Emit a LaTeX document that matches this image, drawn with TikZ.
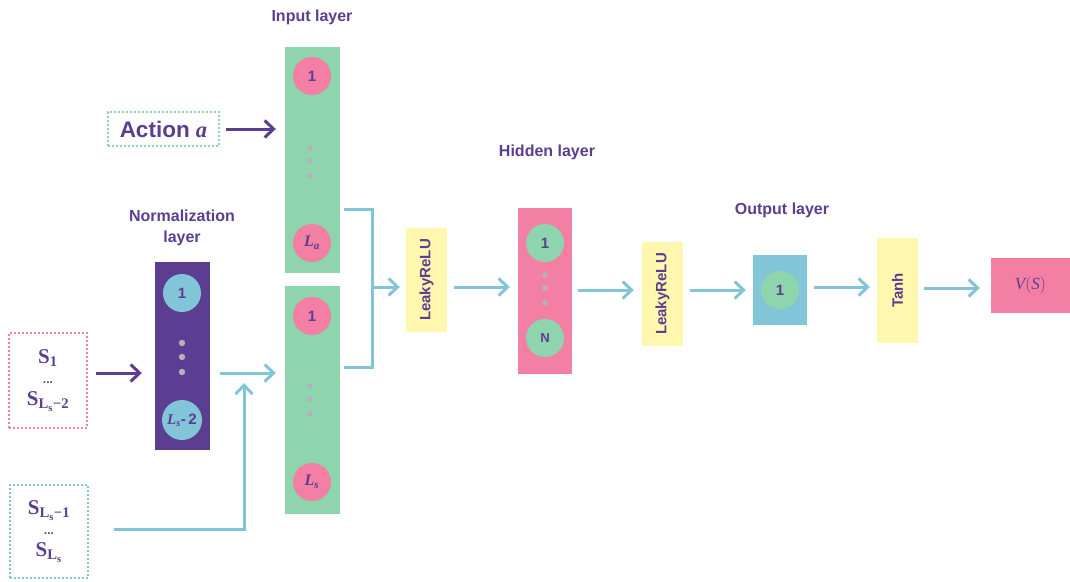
\documentclass[tikz,border=0pt]{standalone}
\usepackage{amsmath}
\usepackage{fontspec}
\setmainfont{Liberation Sans}
\newfontfamily\cmser{Liberation Serif}
\usetikzlibrary{arrows.meta}
\newcommand{\cb}[1]{\text{\cmser\bfseries #1}}
\newcommand{\ci}[1]{\text{\cmser\bfseries\itshape #1}}
\definecolor{ink}{RGB}{91,62,145}
\definecolor{lgreen}{RGB}{142,212,172}
\definecolor{lpink}{RGB}{243,127,164}
\definecolor{lblue}{RGB}{130,197,216}
\definecolor{lyellow}{RGB}{255,247,174}
\definecolor{dotgrey}{RGB}{178,178,188}
\begin{document}
\begin{tikzpicture}[x=1pt,y=-1pt,
  title/.style={text=ink,font=\fontsize{16}{21}\selectfont\bfseries,align=center},
  col/.style={draw=none,minimum width=55,inner sep=0},
  unit/.style={circle,minimum size=38,inner sep=0,text=ink,font=\fontsize{15}{18}\selectfont\bfseries},
  act/.style={fill=lyellow,minimum width=104,minimum height=41,inner sep=0,rotate=90,text=ink,font=\fontsize{15}{18}\selectfont\bfseries},
  dotbox/.style={line width=2pt,dash pattern=on 2pt off 2pt,minimum width=78,inner sep=0,align=center,text=ink,font=\fontsize{21}{25}\selectfont},
  barrow/.style={line width=3pt,-{Straight Barb[length=9pt,width=17pt,line width=3pt]}},
  gdot/.style={fill=dotgrey,draw=none},
]
\useasboundingbox (0,0) rectangle (1070,581);

% titles
\node[title] (tin) at (312,17) {Input layer};
\node[title] (tnorm) at (182,228) {Normalization\\layer};
\node[title] (thid) at (547,152) {Hidden layer};
\node[title] (tout) at (782,210) {Output layer};

% input dotted boxes
\node[dotbox,draw=lgreen,minimum width=111,minimum height=34,font=\fontsize{22.5}{26}\selectfont\bfseries] (action) at (163.5,129) {Action $\ci{a}$};
\node[dotbox,draw=lpink,minimum height=95] (s1box) at (48,380.5)
  {$\cb{S}_{\cb{1}}$\\[-5pt]{\fontsize{12}{12}\selectfont\bfseries ...}\\[-3pt]$\cb{S}_{\cb{L}_{\cb{s}}\cb{−2}}$};
\node[dotbox,draw=lblue,minimum height=93] (s2box) at (49,531.5)
  {$\cb{S}_{\cb{L}_{\cb{s}}\cb{−1}}$\\[-5pt]{\fontsize{12}{12}\selectfont\bfseries ...}\\[-3pt]$\cb{S}_{\cb{L}_{\cb{s}}}$};

% normalization layer
\node[col,fill=ink,minimum height=188] (norm) at (182.5,356) {};
\node[unit,fill=lblue] (n1) at (182,293) {1};
\node[unit,fill=lblue,minimum size=40,font=\fontsize{15}{16}\selectfont\bfseries] (nL) at (182,420) {$\ci{L}_{\ci{s}}$-\,2};
\fill[gdot] (182,343) circle (3.2) (182,357) circle (3.2) (182,372) circle (3.2);

% input layer
\node[col,fill=lgreen,minimum height=226] (inA) at (312.5,160) {};
\node[col,fill=lgreen,minimum height=228] (inS) at (312.5,400) {};
\node[unit,fill=lpink] (a1) at (312,76) {1};
\node[unit,fill=lpink,font=\fontsize{16}{18}\selectfont] (aL) at (312,243) {$\ci{L}_{\ci{a}}$};
\node[unit,fill=lpink] (s1) at (312,316) {1};
\node[unit,fill=lpink,font=\fontsize{16}{18}\selectfont] (sL) at (312,482) {$\ci{L}_{\ci{s}}$};
\fill[gdot] (310,148) circle (2.8) (310,161) circle (2.8) (310,176) circle (2.8);
\fill[gdot] (310,386) circle (2.8) (310,399) circle (2.8) (310,414) circle (2.8);

% hidden layer
\node[col,fill=lpink,minimum width=54,minimum height=166] (hid) at (545,291) {};
\node[unit,fill=lgreen] (h1) at (545,243) {1};
\node[unit,fill=lgreen,font=\fontsize{13}{15}\selectfont\bfseries] (hN) at (545,338) {N};
\fill[gdot] (545,275) circle (2.8) (545,288) circle (2.8) (545,303) circle (2.8);

% activations
\node[act] (lr1) at (426.5,280) {LeakyReLU};
\node[act] (lr2) at (662.5,294) {LeakyReLU};
\node[act,minimum width=105] (tanh) at (897.5,290.5) {Tanh};

% output layer
\node[col,fill=lblue,minimum width=54,minimum height=70] (out) at (780,290) {};
\node[unit,fill=lgreen] (o1) at (780,290) {1};

\node[fill=lpink,minimum width=79,minimum height=55,inner sep=0,text=ink,font=\fontsize{17}{18}\selectfont] (vs) at (1030.5,285.5) {$\text{\cmser\itshape V}\mathrm{(}\text{\cmser\itshape S}\mathrm{)}$};

% helper coordinates
\coordinate (mrg) at (244,373);
\coordinate (jn) at (372,287);
\coordinate (r287) at (0,287);
\coordinate (r290) at (0,290);
\coordinate (r288) at (0,288);

% connectors
\draw[barrow,ink,shorten <=6pt,shorten >=9pt] (action.east) -- (inA.west |- action.east);
\draw[barrow,ink,shorten <=8pt,shorten >=13pt] ([yshift=7.5pt]s1box.east) -- (norm.west |- mrg);
\draw[barrow,lblue,shorten <=10pt,shorten >=9pt] (norm.east |- mrg) -- (inS.west |- mrg);
\draw[barrow,lblue] ([xshift=25pt,yshift=2.5pt]s2box.east) -| ([yshift=-10pt]mrg);
\draw[line width=3pt,lblue] ([xshift=4pt,yshift=-49pt]inA.east) -| (jn);
\draw[line width=3pt,lblue] ([xshift=4pt,yshift=33pt]inS.east) -| (jn);
\draw[barrow,lblue,shorten >=6pt] ([xshift=-1.5pt]jn) -- (lr1.north |- jn);
\draw[barrow,lblue,shorten <=7pt,shorten >=8pt] (lr1.south |- r287) -- (hid.west |- r287);
\draw[barrow,lblue,shorten <=6pt,shorten >=8pt] (hid.east |- r290) -- (lr2.north |- r290);
\draw[barrow,lblue,shorten <=7pt,shorten >=7pt] (lr2.south |- r290) -- (out.west |- r290);
\draw[barrow,lblue,shorten <=7pt,shorten >=7pt] (out.east |- r287) -- (tanh.north |- r287);
\draw[barrow,lblue,shorten <=6pt,shorten >=11pt] (tanh.south |- r288) -- (vs.west |- r288);
\end{tikzpicture}
\end{document}
